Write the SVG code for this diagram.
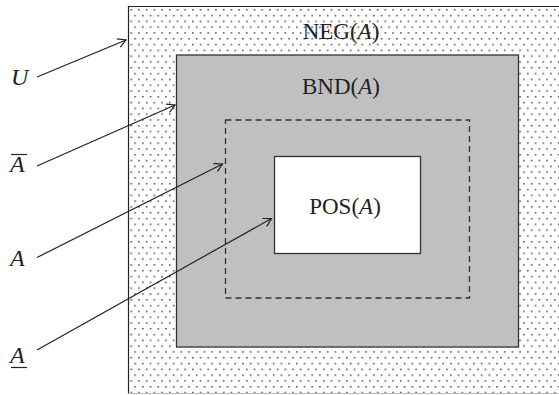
<svg xmlns="http://www.w3.org/2000/svg" width="559" height="395" viewBox="0 0 559 395">
<defs>
<pattern id="dots" x="128.5" y="8" width="7.7" height="11.6" patternUnits="userSpaceOnUse">
<rect x="2" y="1" width="1.5" height="1.5" fill="#444"/>
<rect x="5.85" y="6.8" width="1.5" height="1.5" fill="#444"/>
</pattern>
<marker id="arr" markerUnits="userSpaceOnUse" markerWidth="20" markerHeight="20" refX="10" refY="10" orient="auto" viewBox="0 0 20 20">
<path d="M2,5.5 L10,10 L2,14.5" fill="none" stroke="#222" stroke-width="1.2"/>
</marker>
</defs>
<style>
.lbl{font-family:"Liberation Serif",serif;font-size:23px;fill:#222}
.side{font-size:24px}
.it{font-style:italic}
.box{stroke:#333;stroke-width:1.3}
.conn{stroke:#222;stroke-width:1.2;fill:none;marker-end:url(#arr)}
</style>
<rect width="559" height="395" fill="#fff"/>
<g id="neg">
<rect x="128.5" y="6.5" width="440" height="387" fill="url(#dots)" stroke="none"/>
<path d="M128.5,393.5 V6.5 H559" fill="none" stroke="#222" stroke-width="1.2"/>
<line x1="128.5" y1="393.5" x2="559" y2="393.5" stroke="#bbb" stroke-width="1"/>
<text class="lbl" x="341" y="39" text-anchor="middle">NEG(<tspan class="it">A</tspan>)</text>
</g>
<g id="bnd">
<rect class="box" x="176.5" y="55" width="342" height="292" fill="#c0c0c0"/>
<text class="lbl" x="341" y="94" text-anchor="middle">BND(<tspan class="it">A</tspan>)</text>
</g>
<g id="upper">
<rect x="225.5" y="120" width="244" height="178" fill="none" stroke="#333" stroke-width="1.3" stroke-dasharray="6,4"/>
</g>
<g id="pos">
<rect class="box" x="274.5" y="156.5" width="146" height="97" fill="#fff"/>
<text class="lbl" x="345" y="214" text-anchor="middle">POS(<tspan class="it">A</tspan>)</text>
</g>
<g id="labels">
<text class="lbl side it" x="11" y="85">U</text>
<text class="lbl side it" x="10" y="172">A</text>
<line x1="11" y1="154.5" x2="27" y2="154.5" stroke="#222" stroke-width="1.2"/>
<text class="lbl side it" x="10" y="266">A</text>
<text class="lbl side it" x="10" y="363">A</text>
<line x1="11" y1="367.5" x2="27" y2="367.5" stroke="#222" stroke-width="1.2"/>
</g>
<g id="connectors">
<line class="conn" x1="37" y1="77" x2="126" y2="40"/>
<line class="conn" x1="37" y1="166" x2="175" y2="105"/>
<line class="conn" x1="37" y1="257.5" x2="222.5" y2="164"/>
<line class="conn" x1="37" y1="350" x2="271.5" y2="218.5"/>
</g>
</svg>
